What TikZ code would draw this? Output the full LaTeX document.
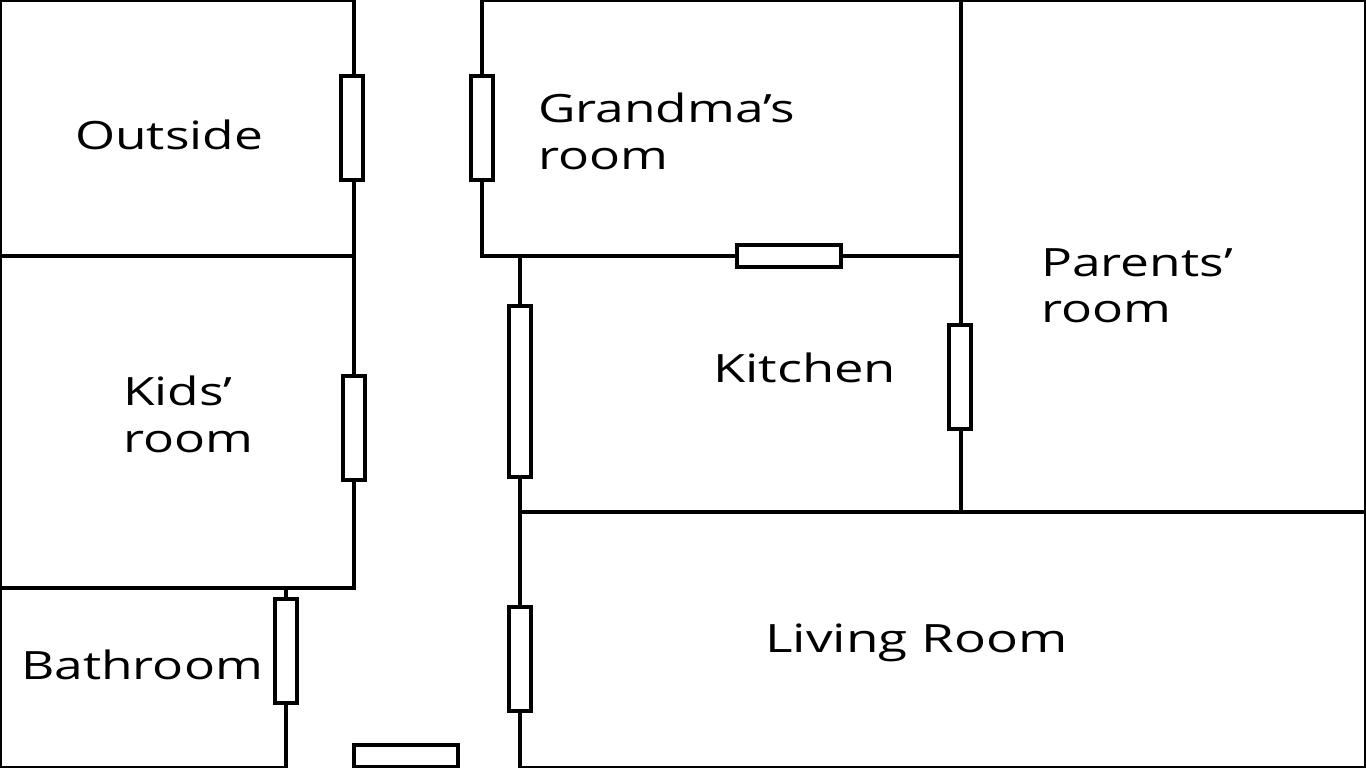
\documentclass[tikz,border=0pt]{standalone}
\usepackage{fontspec}
\setmainfont[FakeStretch=1.32]{Open Sans}
\tikzset{
  wall/.style={line width=3.6pt},
  door/.style={line width=3.6pt,fill=white},
  label/.style={font=\fontsize{39}{47}\selectfont,align=left,anchor=base west,inner sep=0pt}
}
\begin{document}
\begin{tikzpicture}[x=1pt,y=-1pt]
    \useasboundingbox (0,0) rectangle (1366,768);
    % walls
    \draw[wall] (354,0) to (354,588) to (0,588);
    \draw[wall] (0,256) to (354,256);
    \draw[wall] (0.3,0) to (0.3,768);
    \draw[wall] (0,0.3) to (354,0.3);
    \draw[wall] (482,0) to (482,256) to (961,256);
    \draw[wall] (482,0.3) to (1366,0.3);
    \draw[wall] (961,0) to (961,512);
    \draw[wall] (520,256) to (520,768);
    \draw[wall] (520,512) to (1366,512);
    \draw[wall] (1365.7,0) to (1365.7,768);
    \draw[wall] (520,767.5) to (1366,767.5);
    \draw[wall] (286,588) to (286,768);
    \draw[wall] (0,767.5) to (286,767.5);
    % doors
    \draw[door] (341,76) rectangle (363,180);
    \draw[door] (471,76) rectangle (493,180);
    \draw[door] (737,245) rectangle (841,267);
    \draw[door] (509,306) rectangle (531,477);
    \draw[door] (949,325) rectangle (971,429);
    \draw[door] (343,376) rectangle (365,480);
    \draw[door] (275,599) rectangle (297,703);
    \draw[door] (509,607) rectangle (531,711);
    \draw[door] (354,745) rectangle (458,767);
    % rooms
    \node[label] (outside) at (75,149) {Outside};
    \node[label] (grandma) at (538,122) {Grandma's};
    \node[label] (grandmab) at (538,169) {room};
    \node[label] (parents) at (1041,276) {Parents'};
    \node[label] (parentsb) at (1041,322) {room};
    \node[label,xscale=1.02] (kitchen) at (713,382) {Kitchen};
    \node[label] (kids) at (123,405) {Kids'};
    \node[label] (kidsb) at (123,452) {room};
    \node[label] (bathroom) at (21,679) {Bathroom};
    \node[label,xscale=1.03] (living) at (765,652) {Living Room};
\end{tikzpicture}
\end{document}
